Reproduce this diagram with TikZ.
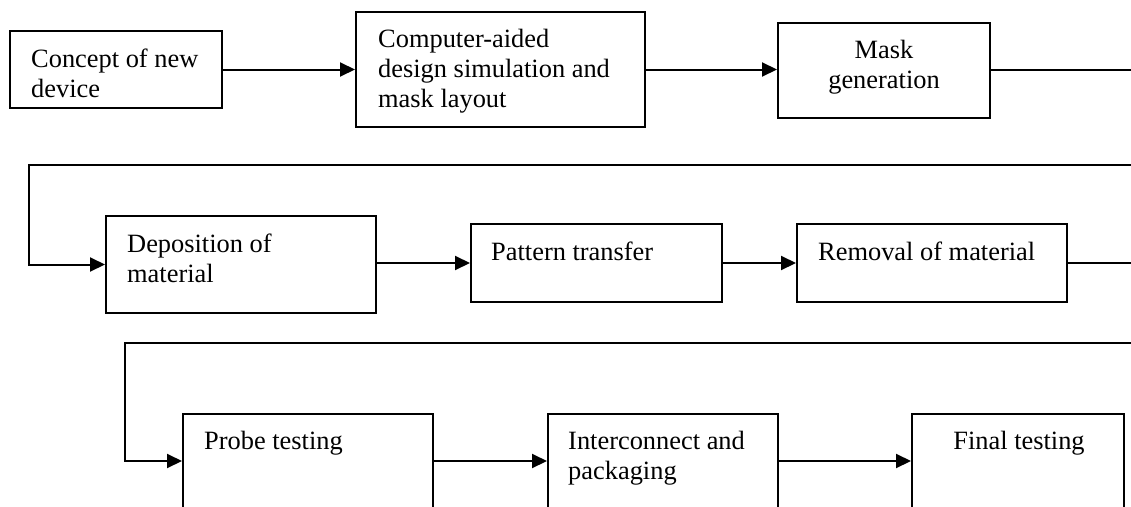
\documentclass[tikz,border=0pt]{standalone}
\usepackage{fontspec}
\setmainfont{Liberation Serif}
\usetikzlibrary{arrows.meta}
\begin{document}
\begin{tikzpicture}[x=1pt,y=-1pt,
  box/.style={draw,line width=2pt,inner sep=0pt,minimum width=#1},
  lbl/.style={inner sep=0pt,align=left,anchor=base west,font=\fontsize{26.4}{30}\selectfont},
  clbl/.style={inner sep=0pt,align=center,anchor=base,font=\fontsize{26.4}{30}\selectfont},
  flow/.style={line width=2pt,-{Triangle[length=15pt,width=14pt]}},
  wire/.style={line width=2pt}]
\useasboundingbox (0,0) rectangle (1131,506);
\clip (0,0) rectangle (1131,506);
% row 1
\node[box=212pt,minimum height=77pt] (b1) at (116,69.5) {};
\node[box=289pt,minimum height=115pt] (b2) at (500.5,69.5) {};
\node[box=212pt,minimum height=95pt] (b3) at (884,70) {};
\node[lbl] (t1) at (31,97) {Concept of new\\device};
\node[lbl] (t2) at (378,107) {Computer-aided\\design simulation and\\mask layout};
\node[clbl] (t3) at (884,88) {Mask\\generation};
\coordinate (r1) at (1135,70);
% row 2
\node[box=270pt,minimum height=97pt] (b4) at (241,264.5) {};
\node[box=251pt,minimum height=78pt] (b5) at (596.5,263) {};
\node[box=270pt,minimum height=78pt] (b6) at (932,263) {};
\node[lbl] (t4) at (127,282) {Deposition of\\material};
\node[lbl] (t5) at (491,260) {Pattern transfer};
\node[lbl] (t6) at (818,260) {Removal of material};
\coordinate (s2) at (1135,165);
\coordinate (c2) at (29,165);
\coordinate (r2) at (1135,263);
% row 3
\node[box=250pt,minimum height=94pt] (b7) at (308,461) {};
\node[box=230pt,minimum height=94pt] (b8) at (663,461) {};
\node[box=212pt,minimum height=94pt] (b9) at (1018,461) {};
\node[lbl] (t7) at (204,449) {Probe testing};
\node[lbl] (t8) at (568,479) {Interconnect and\\packaging};
\node[clbl] (t9) at (1019,449) {Final testing};
\coordinate (s3) at (1135,343);
\coordinate (c3) at (125,343);
% connectors
\draw[flow] (b1.east) -- (b1.east -| b2.west);
\draw[flow] (b2.east) -- (b2.east -| b3.west);
\draw[wire] (b3.east) -- (r1);
\draw[flow] (s2) -- (c2) |- (b4.west);
\draw[flow] (b4.east |- b5.west) -- (b5.west);
\draw[flow] (b5.east) -- (b6.west);
\draw[wire] (b6.east) -- (r2);
\draw[flow] (s3) -- (c3) |- (b7.west);
\draw[flow] (b7.east) -- (b8.west);
\draw[flow] (b8.east) -- (b9.west);
\end{tikzpicture}
\end{document}
